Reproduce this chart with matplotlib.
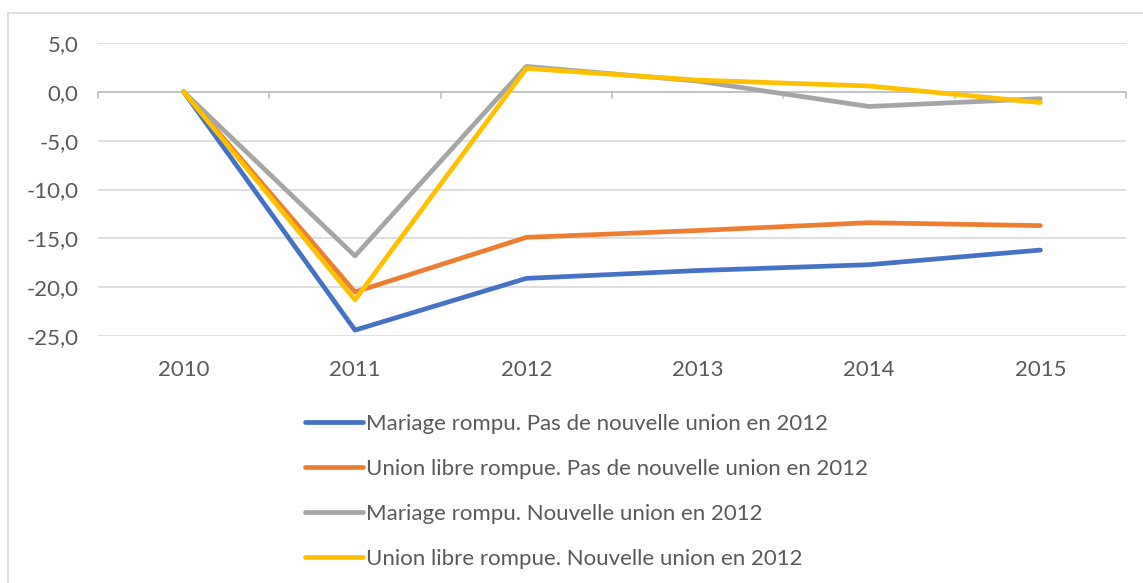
import matplotlib.pyplot as plt
from matplotlib.lines import Line2D
from matplotlib.ticker import FuncFormatter

# Données
annees = ['2010', '2011', '2012', '2013', '2014', '2015']
mariage_sans = [0.0, -24.4, -19.1, -18.3, -17.7, -16.2]
libre_sans = [0.0, -20.5, -14.9, -14.2, -13.4, -13.7]
mariage_nouv = [0.0, -16.8, 2.6, 1.1, -1.5, -0.7]
libre_nouv = [0.0, -21.3, 2.4, 1.2, 0.6, -1.1]

labels = ['Mariage rompu. Pas de nouvelle union en 2012',
          'Union libre rompue. Pas de nouvelle union en 2012',
          'Mariage rompu. Nouvelle union en 2012',
          'Union libre rompue. Nouvelle union en 2012']
couleurs = ['#4472C4', '#ED7D31', '#A5A5A5', '#FFC000']
series = [mariage_sans, libre_sans, mariage_nouv, libre_nouv]

plt.rcParams['font.family'] = ['Lato', 'DejaVu Sans']
texte = '#595959'
grille = '#D9D9D9'

fig = plt.figure(figsize=(11.43, 5.83), dpi=100)
ax = fig.add_axes([98 / 1143, 1 - 336 / 583, (1126 - 98) / 1143, (336 - 43) / 583])

x = list(range(len(annees)))
lignes = []
for y, c, lab in zip(series, couleurs, labels):
    l, = ax.plot(x, y, color=c, lw=3.4, solid_capstyle='round', solid_joinstyle='round', label=lab, zorder=3)
    lignes.append(l)

ax.set_xlim(-0.5, len(annees) - 0.5)
ax.set_ylim(-25, 5)
ax.set_yticks(range(-25, 6, 5))
ax.yaxis.set_major_formatter(FuncFormatter(lambda v, p: f'{v:.1f}'.replace('.', ',')))
ax.set_xticks(x)
ax.set_xticklabels(annees)
ax.grid(axis='y', color=grille, lw=1.2)
ax.set_axisbelow(True)
for s in ax.spines.values():
    s.set_visible(False)
ax.tick_params(axis='both', length=0, labelsize=16, labelcolor=texte)
ax.tick_params(axis='y', pad=14)
ax.tick_params(axis='x', pad=17)

# axe horizontal à zéro avec graduations entre catégories
ax.axhline(0, color='#BFBFBF', lw=1.2, zorder=2)
for b in range(len(annees) + 1):
    ax.plot([b - 0.5, b - 0.5], [0, -0.6], color='#BFBFBF', lw=1.2, zorder=2, clip_on=False)

fig.legend(handles=lignes, loc='upper left', bbox_to_anchor=(296 / 1143, 1 - 405 / 583),
           frameon=False, fontsize=16, labelcolor=texte, handlelength=2.6, handletextpad=0.15,
           labelspacing=1.12, borderaxespad=0)

# cadre du graphique
fig.add_artist(Line2D([8 / 1143, 8 / 1143], [0, 1 - 13 / 583], color=grille, lw=1.2))
fig.add_artist(Line2D([8 / 1143, 1], [1 - 13 / 583, 1 - 13 / 583], color=grille, lw=1.2))

fig.savefig('out.png', dpi=100)
